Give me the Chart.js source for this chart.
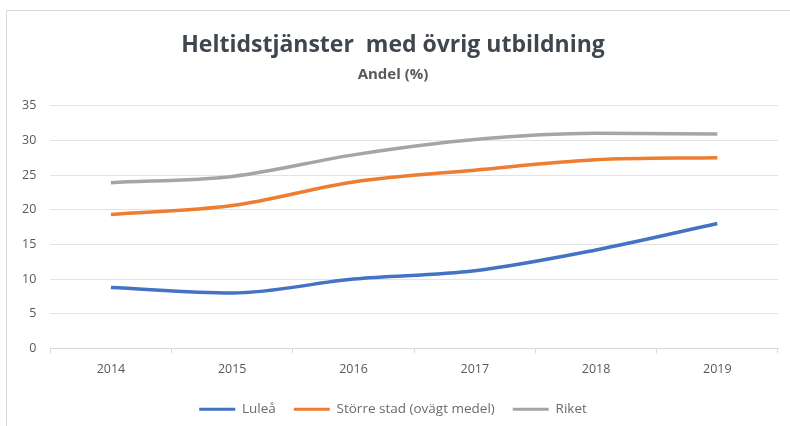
<!DOCTYPE html>
<html>
<head>
<meta charset="utf-8">
<script src="https://cdn.jsdelivr.net/npm/chart.js@4/dist/chart.umd.min.js"></script>
<style>
  body { margin: 0; background: #fff; }
  #frame { position: absolute; left: 6px; top: 10px; width: 800px; height: 430px; border: 1px solid #d9d9d9; }
  #wrap { position: absolute; left: 0; top: 0; width: 790px; height: 426px; }
</style>
</head>
<body>
<div id="frame"></div>
<div id="wrap"><canvas id="chart"></canvas></div>
<script>
const years = ['2014', '2015', '2016', '2017', '2018', '2019'];
const lulea = [8.8, 8.0, 10.0, 11.2, 14.2, 18.0];
const storreStad = [19.3, 20.6, 24.0, 25.7, 27.2, 27.5];
const riket = [23.9, 24.8, 27.9, 30.1, 31.0, 30.9];

const tickColor = '#595959';

new Chart(document.getElementById('chart'), {
    type: 'line',
    data: {
        labels: years,
        datasets: [
            { label: 'Luleå', data: lulea, borderColor: '#4472c4', backgroundColor: '#4472c4' },
            { label: 'Större stad (ovägt medel)', data: storreStad, borderColor: '#ed7d31', backgroundColor: '#ed7d31' },
            { label: 'Riket', data: riket, borderColor: '#a5a5a5', backgroundColor: '#a5a5a5' }
        ]
    },
    options: {
        responsive: true,
        maintainAspectRatio: false,
        animation: false,
        elements: {
            line: { borderWidth: 3.5, tension: 0.3, cubicInterpolationMode: 'monotone' },
            point: { radius: 0 }
        },
        layout: { padding: { top: 32, left: 8, right: 12, bottom: 0 } },
        plugins: {
            title: {
                display: true,
                text: 'Heltidstjänster  med övrig utbildning',
                color: '#3f464e',
                font: { family: 'Open Sans', size: 23, weight: 'bold' },
                padding: { top: 0, bottom: 6 }
            },
            subtitle: {
                display: true,
                text: 'Andel (%)',
                color: '#595959',
                font: { family: 'Open Sans', size: 15, weight: 'bold' },
                padding: { top: 0, bottom: 22 }
            },
            legend: {
                position: 'bottom',
                labels: {
                    color: '#6b6b6b',
                    boxWidth: 36,
                    boxHeight: 3,
                    padding: 18,
                    font: { family: 'Open Sans', size: 13.5 },
                    generateLabels: function(chart) {
                        return Chart.defaults.plugins.legend.labels.generateLabels(chart)
                            .map(item => Object.assign(item, { lineWidth: 0 }));
                    }
                }
            },
            tooltip: { enabled: false }
        },
        scales: {
            x: {
                offset: true,
                grid: { drawOnChartArea: false, drawTicks: true, tickLength: 5, offset: true, color: '#d9d9d9' },
                border: { color: '#d9d9d9' },
                ticks: { color: tickColor, padding: 8, font: { family: 'Open Sans', size: 12.5 } }
            },
            y: {
                min: 0,
                max: 35,
                ticks: { stepSize: 5, color: tickColor, padding: 14, font: { family: 'Open Sans', size: 12.5 } },
                grid: { color: '#e3e3e3', drawTicks: false },
                border: { display: false }
            }
        }
    }
});
</script>
</body>
</html>
